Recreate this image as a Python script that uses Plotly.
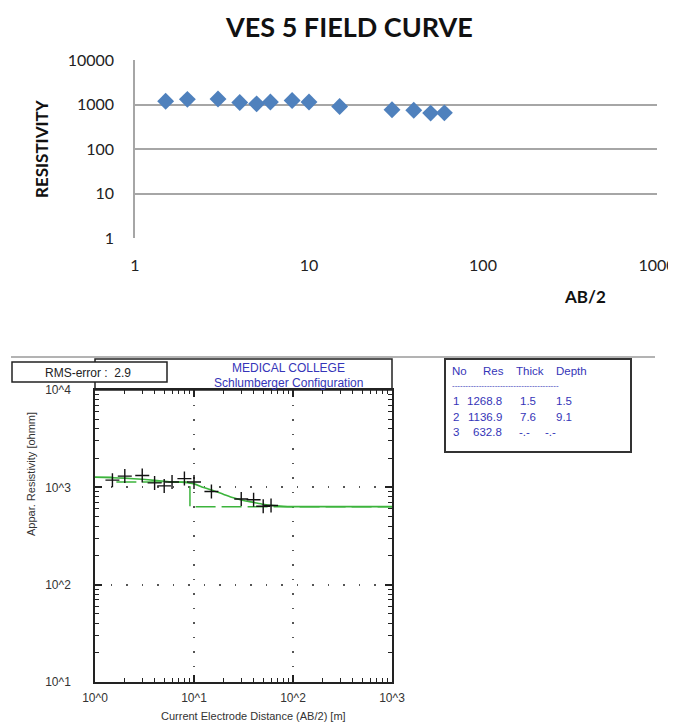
import plotly.graph_objects as go

W, H = 676, 724
OFF = 8  # page body margin of the browser

# ---------------- data ----------------
ab2 = [1.5, 2, 3, 4, 5, 6, 8, 10, 15, 30, 40, 50, 60]
rho_field = [1185, 1305, 1325, 1110, 1035, 1135, 1230, 1135, 905, 760, 745, 640, 650]

model_ab2 = [1.0, 1.5, 2, 3, 4, 5, 6, 8, 10, 12, 15, 20, 25, 30, 40, 50, 60, 80, 100, 200, 1000]
model_rho = [1268, 1255, 1242, 1210, 1178, 1155, 1138, 1122, 1085, 1010, 940, 845, 780, 740,
             700, 670, 652, 638, 634, 633, 633]

layer_no = ["1", "2", "3"]
layer_res = [1268.8, 1136.9, 632.8]
layer_thick = [1.5, 7.6, None]
layer_depth = [1.5, 9.1, None]
rms_error = 2.9

top_xticks = [1, 10, 100, 1000]
top_xtext = ["1", "10", "100", "1000"]
top_yticks = [1, 10, 100, 1000, 10000]
top_ytext = ["1", "10", "100", "1000", "10000"]
bot_xticks = [1, 10, 100, 1000]
bot_xtext = ["10^0", "10^1", "10^2", "10^3"]
bot_yticks = [10, 100, 1000, 10000]
bot_ytext = ["10^1", "10^2", "10^3", "10^4"]
minor_x = [m * d for d in (1, 10, 100) for m in range(2, 10)]
minor_y = [m * d for d in (10, 100, 1000) for m in range(2, 10)]

# step model from layer table
step_x, step_y = [1], [layer_res[0]]
for i, d in enumerate(layer_depth):
    if d is None:
        step_x.append(1000)
        step_y.append(layer_res[i])
    else:
        step_x += [d, d]
        step_y += [layer_res[i], layer_res[i + 1]]


def px(x):
    return (x - OFF) / W


def py(y):
    return 1 - (y - OFF) / H


GREEN = "#3cb43c"
BLUE_TXT = "#3535b8"
ARIAL = "Liberation Sans"
CAL = "Lato"

fig = go.Figure()
fig.add_trace(go.Scatter(x=ab2, y=rho_field, mode="markers", xaxis="x", yaxis="y",
                         marker=dict(symbol="diamond", size=13, color="#4f81bd"),
                         showlegend=False, hoverinfo="skip"))
fig.add_trace(go.Scatter(x=step_x, y=step_y, mode="lines", xaxis="x2", yaxis="y2",
                         line=dict(color=GREEN, width=1.5, dash="20px,6px"),
                         showlegend=False, hoverinfo="skip"))
fig.add_trace(go.Scatter(x=model_ab2, y=model_rho, mode="lines", xaxis="x2", yaxis="y2",
                         line=dict(color=GREEN, width=1.6, shape="spline", smoothing=0.6),
                         showlegend=False, hoverinfo="skip"))
fig.add_trace(go.Scatter(x=ab2, y=rho_field, mode="markers", xaxis="x2", yaxis="y2",
                         marker=dict(symbol="cross-thin", size=10,
                                     line=dict(color="#111", width=1.4)),
                         showlegend=False, hoverinfo="skip"))

fig.update_layout(
    width=W, height=H, margin=dict(l=0, r=0, t=0, b=0, autoexpand=False),
    paper_bgcolor="white", plot_bgcolor="white", showlegend=False,
    xaxis=dict(type="log", range=[0, 3], domain=[px(135), px(657)], anchor="y",
               automargin=False,
               tickmode="array", tickvals=top_xticks, ticktext=top_xtext,
               showgrid=False, zeroline=False, showline=False, ticks="",
               ticklabelstandoff=16, tickfont=dict(family=CAL, size=16, color="#222")),
    yaxis=dict(type="log", range=[0, 4], domain=[py(238), py(60)], anchor="x",
               automargin=False,
               tickmode="array", tickvals=top_yticks, ticktext=top_ytext,
               showgrid=True, gridcolor="#a6a6a6", gridwidth=1.5,
               showline=True, linecolor="#a6a6a6", linewidth=1.5, ticks="",
               ticklabelstandoff=16, tickfont=dict(family=CAL, size=16, color="#222")),
    xaxis2=dict(type="log", range=[0, 3], domain=[px(95), px(392)], anchor="y2",
                automargin=False,
                tickmode="array", tickvals=bot_xticks, ticktext=bot_xtext,
                showgrid=True, gridcolor="#555", gridwidth=1.5, griddash="1.5px,13px",
                showline=True, mirror="ticks", linecolor="#222", linewidth=1.5,
                ticks="inside", ticklen=7, tickwidth=1.5, tickcolor="#222",
                minor=dict(tickmode="array", tickvals=minor_x, ticks="inside", ticklen=4,
                           tickwidth=1, tickcolor="#222", showgrid=False),
                ticklabelstandoff=4, tickfont=dict(family=ARIAL, size=12, color="#333")),
    yaxis2=dict(type="log", range=[1, 4], domain=[py(682), py(390)], anchor="x2",
                automargin=False,
                tickmode="array", tickvals=bot_yticks, ticktext=bot_ytext,
                showgrid=True, gridcolor="#555", gridwidth=1.5, griddash="1.5px,14px",
                showline=True, mirror="ticks", linecolor="#222", linewidth=1.5,
                ticks="inside", ticklen=7, tickwidth=1.5, tickcolor="#222",
                minor=dict(tickmode="array", tickvals=minor_y, ticks="inside", ticklen=4,
                           tickwidth=1, tickcolor="#222", showgrid=False),
                ticklabelstandoff=20, tickfont=dict(family=ARIAL, size=12, color="#333")),
)

shapes = [
    dict(type="line", xref="paper", yref="paper", x0=px(11), x1=px(655), y0=py(357), y1=py(357),
         line=dict(color="#9a9a9a", width=1.5)),
    dict(type="rect", xref="paper", yref="paper", x0=px(95), x1=px(392), y0=py(390), y1=py(359),
         line=dict(color="#222", width=1.5), layer="above"),
    dict(type="rect", xref="paper", yref="paper", x0=px(12), x1=px(167), y0=py(382), y1=py(362),
         line=dict(color="#222", width=1.5), fillcolor="white", layer="above"),
    dict(type="rect", xref="paper", yref="paper", x0=px(445), x1=px(631), y0=py(452), y1=py(359),
         line=dict(color="#333", width=2), layer="above"),
]
fig.update_layout(shapes=shapes)

ann = []


def add(text, x, y, size, family=ARIAL, color="#333", xanchor="center", bold=False, angle=0,
        yanchor="middle"):
    ann.append(dict(text=("<b>%s</b>" % text) if bold else text, x=px(x), y=py(y),
                    xref="paper", yref="paper", showarrow=False, xanchor=xanchor,
                    yanchor=yanchor, textangle=angle,
                    font=dict(family=family, size=size, color=color)))


# top chart texts
add("VES 5 FIELD CURVE", 349, 8, 27, family=CAL, color="#111", bold=True, yanchor="top")
add("RESISTIVITY", 41, 149, 17, family=CAL, color="#111", bold=True, angle=-90)
add("AB/2", 585, 296, 17, family=CAL, color="#111", bold=True)

# bottom chart texts
add("Appar. Resistivity [ohmm]", 31, 474, 11, angle=-90)
add("Current Electrode Distance (AB/2) [m]", 253, 716, 11)
add("RMS-error :&nbsp; %.1f" % rms_error, 88, 373, 12, color="#222")
add("MEDICAL COLLEGE", 288, 367.5, 12, color=BLUE_TXT)
add("Schlumberger Configuration", 288, 383, 12, color=BLUE_TXT)

# layer table
TS = 11.5
add("No", 450, 371, TS, color=BLUE_TXT, xanchor="left")
add("Res", 481, 371, TS, color=BLUE_TXT, xanchor="left")
add("Thick", 514, 371, TS, color=BLUE_TXT, xanchor="left")
add("Depth", 554, 371, TS, color=BLUE_TXT, xanchor="left")
add("-" * 40, 450, 385, 8, color=BLUE_TXT, xanchor="left")
row_y = [401, 417, 432]
for i in range(3):
    add(layer_no[i], 451, row_y[i], TS, color=BLUE_TXT, xanchor="left")
    add("%.1f" % layer_res[i], 504, row_y[i], TS, color=BLUE_TXT, xanchor="right")
    if layer_thick[i] is None:
        add("-.-", 517, row_y[i], TS, color=BLUE_TXT, xanchor="left")
    else:
        add("%.1f" % layer_thick[i], 538, row_y[i], TS, color=BLUE_TXT, xanchor="right")
    if layer_depth[i] is None:
        add("-.-", 543, row_y[i], TS, color=BLUE_TXT, xanchor="left")
    else:
        add("%.1f" % layer_depth[i], 554, row_y[i], TS, color=BLUE_TXT, xanchor="left")

fig.update_layout(annotations=ann)
fig.write_html("out.html")
